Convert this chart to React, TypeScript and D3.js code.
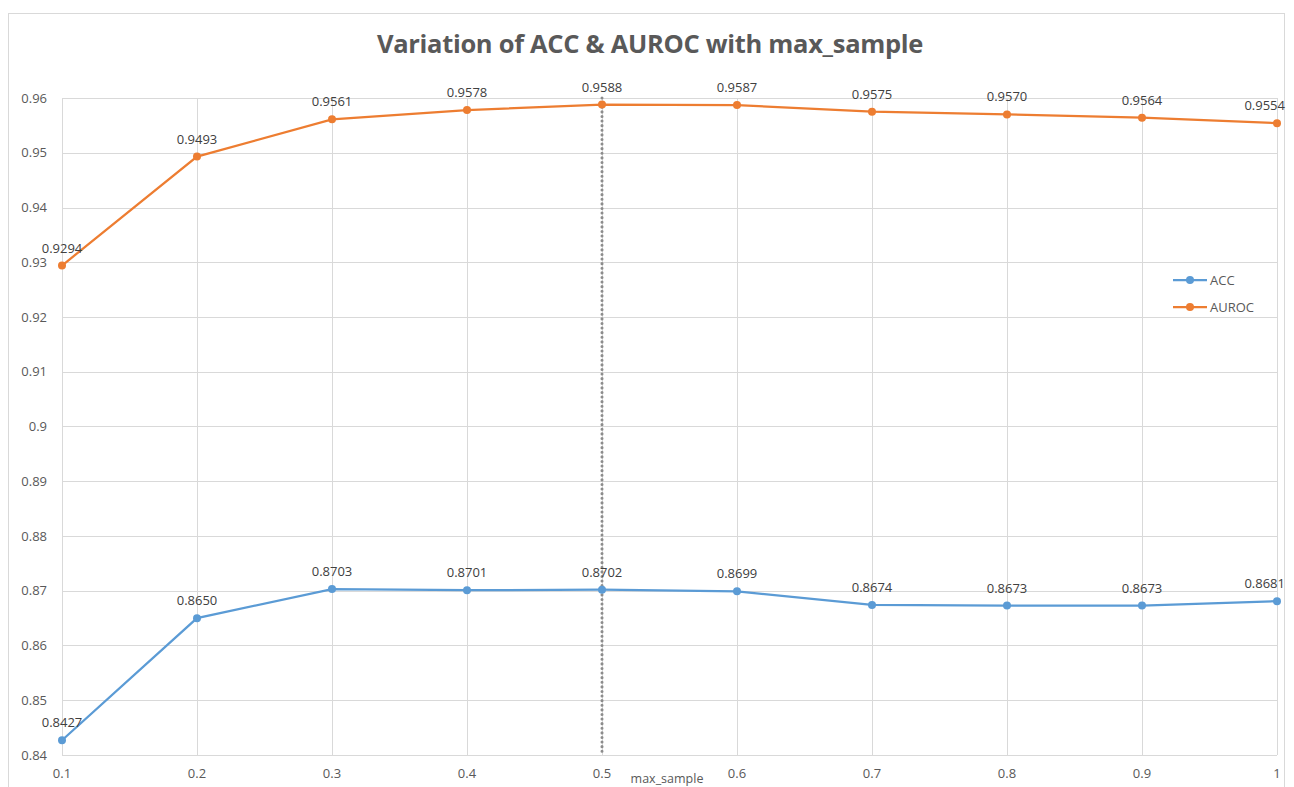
import React from "react";
import * as d3 from "d3";

const xValues = [0.1, 0.2, 0.3, 0.4, 0.5, 0.6, 0.7, 0.8, 0.9, 1];
const xTickLabels = ["0.1", "0.2", "0.3", "0.4", "0.5", "0.6", "0.7", "0.8", "0.9", "1"];
const accValues = [0.8427, 0.865, 0.8703, 0.8701, 0.8702, 0.8699, 0.8674, 0.8673, 0.8673, 0.8681];
const aurocValues = [0.9294, 0.9493, 0.9561, 0.9578, 0.9588, 0.9587, 0.9575, 0.957, 0.9564, 0.9554];
const yTicks = [0.84, 0.85, 0.86, 0.87, 0.88, 0.89, 0.9, 0.91, 0.92, 0.93, 0.94, 0.95, 0.96];
const seriesNames = ["ACC", "AUROC"];
const seriesColors = ["#5B9BD5", "#ED7D31"];
const markerX = 0.5;

export default function App() {
  const W = 1294, H = 787;
  const left = 62, right = 1277, top = 98, bottom = 755;
  const x = d3.scaleLinear().domain([0.1, 1]).range([left, right]);
  const y = d3.scaleLinear().domain([0.84, 0.96]).range([bottom, top]);
  const line = d3.line<number>().x((_, i) => x(xValues[i])).y((d) => y(d));
  const series = [accValues, aurocValues];
  const font = "'Open Sans', 'DejaVu Sans', sans-serif";

  return (
    <svg width={W} height={H} style={{ position: "absolute", left: 0, top: 0 }} fontFamily={font}>
      <rect x={0} y={0} width={W} height={H} fill="#fff" />
      <rect x={8.5} y={13.5} width={1276} height={790} fill="#fff" stroke="#d9d9d9" />
      <text x={650} y={53} textAnchor="middle" fontSize={25.5} fontWeight="bold" fill="#595959" letterSpacing={-0.3}>
        Variation of ACC &amp; AUROC with max_sample
      </text>
      {yTicks.map((t) => (
        <g key={"y" + t}>
          <line x1={left} x2={right} y1={Math.round(y(t)) + 0.5} y2={Math.round(y(t)) + 0.5} stroke="#d9d9d9" />
          <text x={47} y={y(t) + 4.5} textAnchor="end" fontSize={13} fill="#595959">
            {d3.format("")(t)}
          </text>
        </g>
      ))}
      {xValues.map((v, i) => (
        <g key={"x" + v}>
          <line x1={Math.round(x(v)) + 0.5} x2={Math.round(x(v)) + 0.5} y1={top} y2={bottom} stroke="#d9d9d9" />
          <text x={x(v)} y={778} textAnchor="middle" fontSize={13} fill="#595959">
            {xTickLabels[i]}
          </text>
        </g>
      ))}
      <line x1={x(markerX)} x2={x(markerX)} y1={top} y2={bottom} stroke="#8c8c8c" strokeWidth={3} strokeDasharray="0.1 4.5" strokeLinecap="round" />
      <text x={667} y={783} textAnchor="middle" fontSize={12.5} fill="#595959">max_sample</text>
      {series.map((vals, si) => (
        <g key={"s" + si}>
          <path d={line(vals) || ""} fill="none" stroke={seriesColors[si]} strokeWidth={2.25} />
          {vals.map((v, i) => (
            <circle key={i} cx={x(xValues[i])} cy={y(v)} r={4} fill={seriesColors[si]} />
          ))}
          {vals.map((v, i) => {
            const px = x(xValues[i]);
            const atEnd = px > right - 5;
            return (
              <text key={"l" + i} x={atEnd ? 1285 : px} y={y(v) - 13} textAnchor={atEnd ? "end" : "middle"} fontSize={13} fill="#404040">
                {d3.format(".4f")(v)}
              </text>
            );
          })}
        </g>
      ))}
      {seriesNames.map((n, i) => (
        <g key={n} transform={`translate(1173, ${280 + i * 27})`}>
          <line x1={0} x2={34} y1={0} y2={0} stroke={seriesColors[i]} strokeWidth={2.25} />
          <circle cx={17} cy={0} r={4} fill={seriesColors[i]} />
          <text x={37} y={4.5} fontSize={13} fill="#595959">{n}</text>
        </g>
      ))}
    </svg>
  );
}
